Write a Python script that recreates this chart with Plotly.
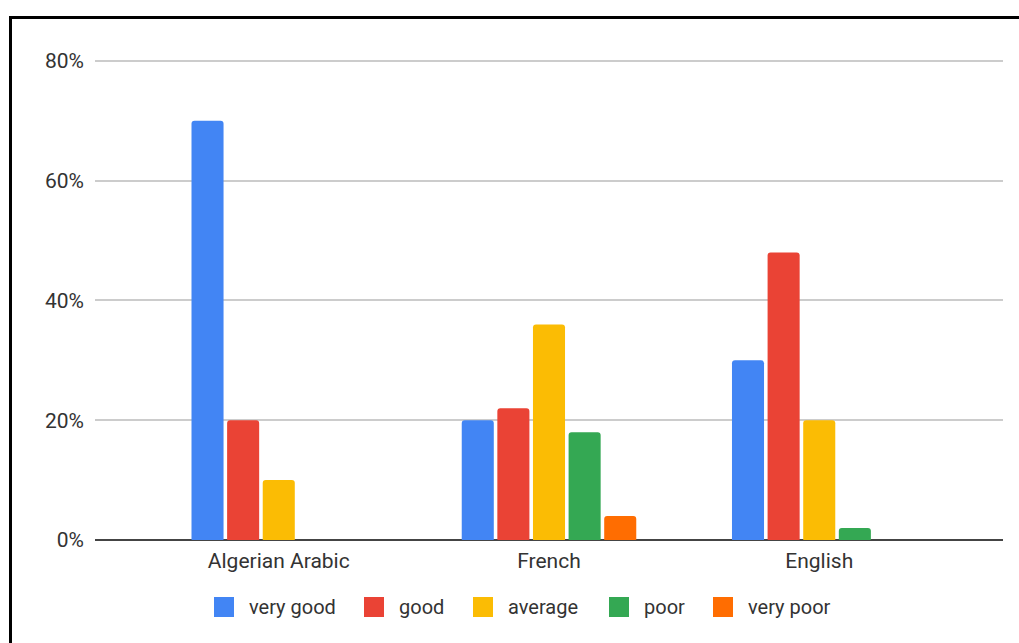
import plotly.graph_objects as go

# Self-assessed proficiency by language (share of respondents)
languages = ["Algerian Arabic", "French", "English"]
levels = ["very good", "good", "average", "poor", "very poor"]
very_good = [0.70, 0.20, 0.30]
good = [0.20, 0.22, 0.48]
average = [0.10, 0.36, 0.20]
poor = [0.00, 0.18, 0.02]
very_poor = [0.00, 0.04, 0.00]
series = [very_good, good, average, poor, very_poor]
colors = ["#4285F4", "#EA4335", "#FBBC04", "#34A853", "#FF6D01"]
y_ticks = [0, 0.2, 0.4, 0.6, 0.8]
y_tick_text = ["0%", "20%", "40%", "60%", "80%"]

W, H = 1019, 643
ML, MR, MT, MB = 95, 16, 55, 103
PW, PH = W - ML - MR, H - MT - MB
FONT = "Roboto, Arial, sans-serif"
TEXT = "#333333"


def px_x(px):
    return (px - ML) / PW


def px_y(py):
    return (H - MB - py) / PH


fig = go.Figure()
for name, vals, col in zip(levels, series, colors):
    fig.add_trace(go.Bar(
        x=languages, y=vals, name=name,
        marker=dict(color=col, line=dict(width=0)),
        showlegend=False,
        hovertemplate="%{x}<br>" + name + ": %{y:.0%}<extra></extra>",
    ))

# Legend row: swatch + label for each level
legend_swatch_left = [214, 364, 473, 609, 713]
shapes = []
annotations = []
for name, col, sx in zip(levels, colors, legend_swatch_left):
    shapes.append(dict(
        type="rect", xref="paper", yref="paper",
        x0=px_x(sx), x1=px_x(sx + 20), y0=px_y(617), y1=px_y(597),
        fillcolor=col, line=dict(width=0), layer="above",
    ))
    annotations.append(dict(
        xref="paper", yref="paper", x=px_x(sx + 33), y=px_y(607),
        xanchor="left", yanchor="middle", showarrow=False,
        text=name, font=dict(family=FONT, size=20, color=TEXT),
    ))

# Outer frame
shapes.append(dict(
    type="rect", xref="paper", yref="paper",
    x0=px_x(10.5), x1=px_x(W + 10), y0=px_y(H + 10), y1=px_y(17.5),
    line=dict(color="#000000", width=3), fillcolor="rgba(0,0,0,0)", layer="above",
))

fig.update_layout(
    width=W, height=H,
    margin=dict(l=ML, r=MR, t=MT, b=MB, pad=0),
    paper_bgcolor="#ffffff", plot_bgcolor="#ffffff",
    barmode="group", bargap=0.341, bargroupgap=0.1,
    barcornerradius=3,
    font=dict(family=FONT, size=21, color=TEXT),
    shapes=shapes, annotations=annotations,
    showlegend=False,
)
fig.update_xaxes(
    type="category", range=[-0.68, 2.68],
    showgrid=False, zeroline=False, showline=False,
    ticks="", ticklabelstandoff=6,
    tickfont=dict(family=FONT, size=21, color=TEXT),
)
fig.update_yaxes(
    range=[0, 0.81], tickvals=y_ticks, ticktext=y_tick_text,
    showgrid=True, gridcolor="#cccccc", gridwidth=1.5,
    zeroline=True, zerolinecolor="#444444", zerolinewidth=2,
    showline=False, ticks="", ticklabelstandoff=10,
    tickfont=dict(family=FONT, size=21, color=TEXT),
)

fig.write_html("out.html")
